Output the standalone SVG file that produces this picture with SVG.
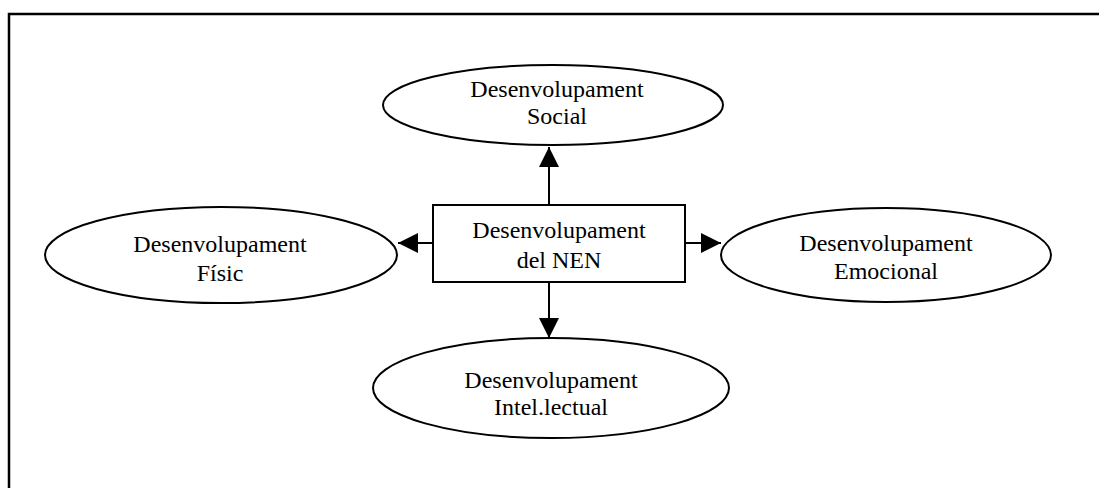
<svg xmlns="http://www.w3.org/2000/svg" width="1099" height="488" viewBox="0 0 1099 488">
  <style>
    .frame { fill: none; stroke: #000; stroke-width: 2.5; }
    .node { fill: #fff; stroke: #000; stroke-width: 2; }
    .edge { fill: none; stroke: #000; stroke-width: 2; }
    .label { font-family: "Liberation Serif", "Times New Roman", serif; font-size: 24px; fill: #000; text-anchor: middle; }
  </style>
  <defs>
    <marker id="head" viewBox="0 0 20 20" refX="20" refY="10" markerWidth="20" markerHeight="20" markerUnits="userSpaceOnUse" orient="auto">
      <path d="M0,0 L20,10 L0,20 Z" fill="#000"/>
    </marker>
  </defs>

  <!-- page frame -->
  <path class="frame" d="M9,488 V14 H1099"/>

  <!-- connectors -->
  <g id="connectors">
    <line class="edge" x1="549" y1="205" x2="549" y2="147" marker-end="url(#head)"/>
    <line class="edge" x1="549" y1="282" x2="549" y2="338" marker-end="url(#head)"/>
    <line class="edge" x1="433" y1="243" x2="398" y2="243" marker-end="url(#head)"/>
    <line class="edge" x1="685" y1="243" x2="721" y2="243" marker-end="url(#head)"/>
  </g>

  <g id="node-center">
    <rect class="node" x="433" y="205" width="252" height="77"/>
    <text class="label" x="559" y="238">Desenvolupament</text>
    <text class="label" x="559" y="268">del NEN</text>
  </g>

  <g id="node-social">
    <ellipse class="node" cx="553" cy="105" rx="170" ry="40"/>
    <text class="label" x="557" y="97">Desenvolupament</text>
    <text class="label" x="557" y="124">Social</text>
  </g>

  <g id="node-fisic">
    <ellipse class="node" cx="221" cy="255" rx="176" ry="48"/>
    <text class="label" x="220" y="252">Desenvolupament</text>
    <text class="label" x="220" y="281">Físic</text>
  </g>

  <g id="node-emocional">
    <ellipse class="node" cx="886" cy="255" rx="165" ry="47"/>
    <text class="label" x="886" y="251">Desenvolupament</text>
    <text class="label" x="886" y="279">Emocional</text>
  </g>

  <g id="node-intellectual">
    <ellipse class="node" cx="551" cy="388" rx="178" ry="50"/>
    <text class="label" x="551" y="388">Desenvolupament</text>
    <text class="label" x="551" y="415">Intel.lectual</text>
  </g>
</svg>
